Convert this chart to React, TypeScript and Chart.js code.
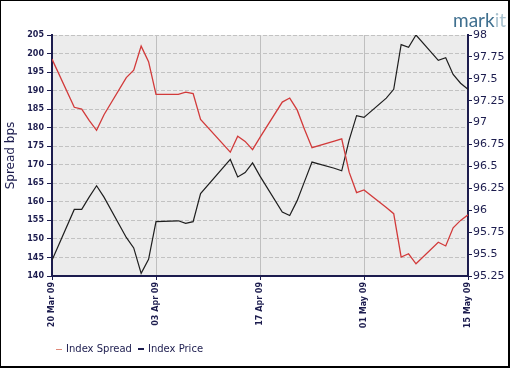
import React, { useEffect, useRef } from "react";
import { Chart, registerables } from "chart.js";

Chart.register(...registerables);

const dates = [
  "2009-03-20", "2009-03-23", "2009-03-24", "2009-03-25", "2009-03-26", "2009-03-27",
  "2009-03-30", "2009-03-31", "2009-04-01", "2009-04-02", "2009-04-03",
  "2009-04-06", "2009-04-07", "2009-04-08", "2009-04-09",
  "2009-04-13", "2009-04-14", "2009-04-15", "2009-04-16", "2009-04-17",
  "2009-04-20", "2009-04-21", "2009-04-22", "2009-04-23", "2009-04-24",
  "2009-04-27", "2009-04-28", "2009-04-29", "2009-04-30", "2009-05-01",
  "2009-05-04", "2009-05-05", "2009-05-06", "2009-05-07", "2009-05-08",
  "2009-05-11", "2009-05-12", "2009-05-13", "2009-05-14", "2009-05-15",
];

const indexSpread = [
  198.5, 185.5, 185.0, 182.0, 179.3, 183.5,
  193.5, 195.5, 202.0, 197.8, 189.0,
  189.0, 189.6, 189.2, 182.2,
  173.4, 177.7, 176.3, 174.1, 177.4,
  186.9, 188.0, 184.8, 179.5, 174.6,
  176.4, 177.0, 168.0, 162.5, 163.2,
  158.5, 156.8, 145.1, 146.0, 143.3,
  149.1, 148.1, 153.0, 155.0, 156.5,
];

const indexPrice = [
  95.43, 96.01, 96.01, 96.15, 96.28, 96.15,
  95.69, 95.57, 95.28, 95.44, 95.87,
  95.88, 95.85, 95.87, 96.19,
  96.58, 96.38, 96.43, 96.54, 96.39,
  95.98, 95.94, 96.11, 96.33, 96.55,
  96.48, 96.45, 96.80, 97.08, 97.06,
  97.28, 97.38, 97.89, 97.86, 98.0,
  97.71, 97.74, 97.55, 97.45, 97.38,
];

const xTickLabels = ["20 Mar 09", "03 Apr 09", "17 Apr 09", "01 May 09", "15 May 09"];
const startDate = "2009-03-20";

const NAVY = "#1c1c4e";

function dayOffset(d: string): number {
  const [y, m, dd] = d.split("-").map(Number);
  const [sy, sm, sd] = startDate.split("-").map(Number);
  return Math.round((Date.UTC(y, m - 1, dd) - Date.UTC(sy, sm - 1, sd)) / 86400000);
}

const plotBg = {
  id: "plotBg",
  beforeDraw(chart: any) {
    const { ctx, chartArea } = chart;
    ctx.save();
    ctx.fillStyle = "#ececec";
    ctx.fillRect(chartArea.left, chartArea.top, chartArea.right - chartArea.left, chartArea.bottom - chartArea.top);
    ctx.restore();
  },
};

export default function App() {
  const ref = useRef<HTMLCanvasElement>(null);

  useEffect(() => {
    if (!ref.current) return;
    const spreadPts = dates.map((d, i) => ({ x: dayOffset(d), y: indexSpread[i] }));
    const pricePts = dates.map((d, i) => ({ x: dayOffset(d), y: indexPrice[i] }));
    const chart = new Chart(ref.current, {
      type: "line",
      data: {
        datasets: [
          {
            label: "Index Spread",
            data: spreadPts,
            borderColor: "#d23a3a",
            borderWidth: 1.3,
            pointRadius: 0,
            tension: 0,
            yAxisID: "y",
          },
          {
            label: "Index Price",
            data: pricePts,
            borderColor: "#1e1e1e",
            borderWidth: 1.2,
            pointRadius: 0,
            tension: 0,
            yAxisID: "y1",
          },
        ],
      },
      options: {
        animation: false,
        responsive: false,
        maintainAspectRatio: false,
        layout: { padding: { top: 35, left: 0, right: 0, bottom: 0 } },
        plugins: { legend: { display: false }, tooltip: { enabled: false } },
        scales: {
          x: {
            type: "linear",
            min: 0,
            max: 56,
            afterFit: (s: any) => { s.height = 92; },
            ticks: {
              stepSize: 14,
              autoSkip: false,
              minRotation: 90,
              maxRotation: 90,
              padding: 2,
              color: NAVY,
              font: { family: "DejaVu Sans", size: 8, weight: "bold" },
              callback: (v: any) => xTickLabels[Math.round(Number(v) / 14)] ?? "",
            },
            grid: {
              color: (c: any) => (c.index === 0 || c.index === 4 ? "rgba(0,0,0,0)" : "#bfbfbf"),
              lineWidth: 1,
              drawTicks: true,
              tickLength: 4,
              tickColor: NAVY,
              tickWidth: 1,
            },
            border: { color: NAVY, width: 2 },
          },
          y: {
            position: "left",
            min: 140,
            max: 205,
            afterFit: (s: any) => { s.width = 52; },
            ticks: {
              stepSize: 5,
              padding: 3,
              color: NAVY,
              font: { family: "DejaVu Sans", size: 8, weight: "bold" },
            },
            title: {
              display: true,
              text: "Spread bps",
              color: NAVY,
              font: { family: "DejaVu Sans", size: 12 },
              padding: { top: 4, bottom: 0 },
            },
            grid: {
              color: "#c2c2c2",
              lineWidth: 1,
              tickBorderDash: [1, 0],
              tickLength: 5,
              tickColor: NAVY,
              tickWidth: 1,
            },
            border: { color: NAVY, width: 2, dash: [4, 2] },
          },
          y1: {
            position: "right",
            min: 95.25,
            max: 98,
            afterFit: (s: any) => { s.width = 42; },
            ticks: {
              stepSize: 0.25,
              padding: 1,
              color: NAVY,
              font: { family: "DejaVu Sans", size: 11 },
              callback: (v: any) => String(Number(Number(v).toFixed(2))),
            },
            grid: {
              drawOnChartArea: false,
              tickLength: 4,
              tickColor: NAVY,
              tickWidth: 1,
            },
            border: { color: NAVY, width: 2 },
          },
        },
      } as any,
      plugins: [plotBg],
    });
    return () => chart.destroy();
  }, []);

  return (
    <div style={{ position: "absolute", left: 0, top: 0, width: 510, height: 368, background: "#fff" }}>
      <canvas ref={ref} width={510} height={368} style={{ position: "absolute", left: 0, top: 0 }} />
      <div
        style={{
          position: "absolute", left: 453, top: 8, fontFamily: "Lato", fontSize: 19,
          color: "#3f6f8f", letterSpacing: 0,
        }}
      >
        mark<span style={{ color: "#a9c2cf" }}>it</span>
      </div>
      <div
        style={{
          position: "absolute", left: 56, top: 343, fontFamily: "DejaVu Sans", fontSize: 10,
          lineHeight: "12px", color: NAVY, whiteSpace: "nowrap", display: "flex", alignItems: "center",
        }}
      >
        <span style={{ display: "inline-block", width: 6, height: 1, background: "#e08878", marginRight: 4 }} />
        <span>Index Spread</span>
        <span style={{ display: "inline-block", width: 6, height: 1.5, background: NAVY, marginLeft: 6, marginRight: 4 }} />
        <span>Index Price</span>
      </div>
      <div
        style={{
          position: "absolute", left: 0, top: 0, width: 510, height: 368, boxSizing: "border-box",
          borderTop: "1px solid #000", borderLeft: "1px solid #000", borderRight: "2px solid #000",
          borderBottom: "2px solid #000", pointerEvents: "none",
        }}
      />
    </div>
  );
}
